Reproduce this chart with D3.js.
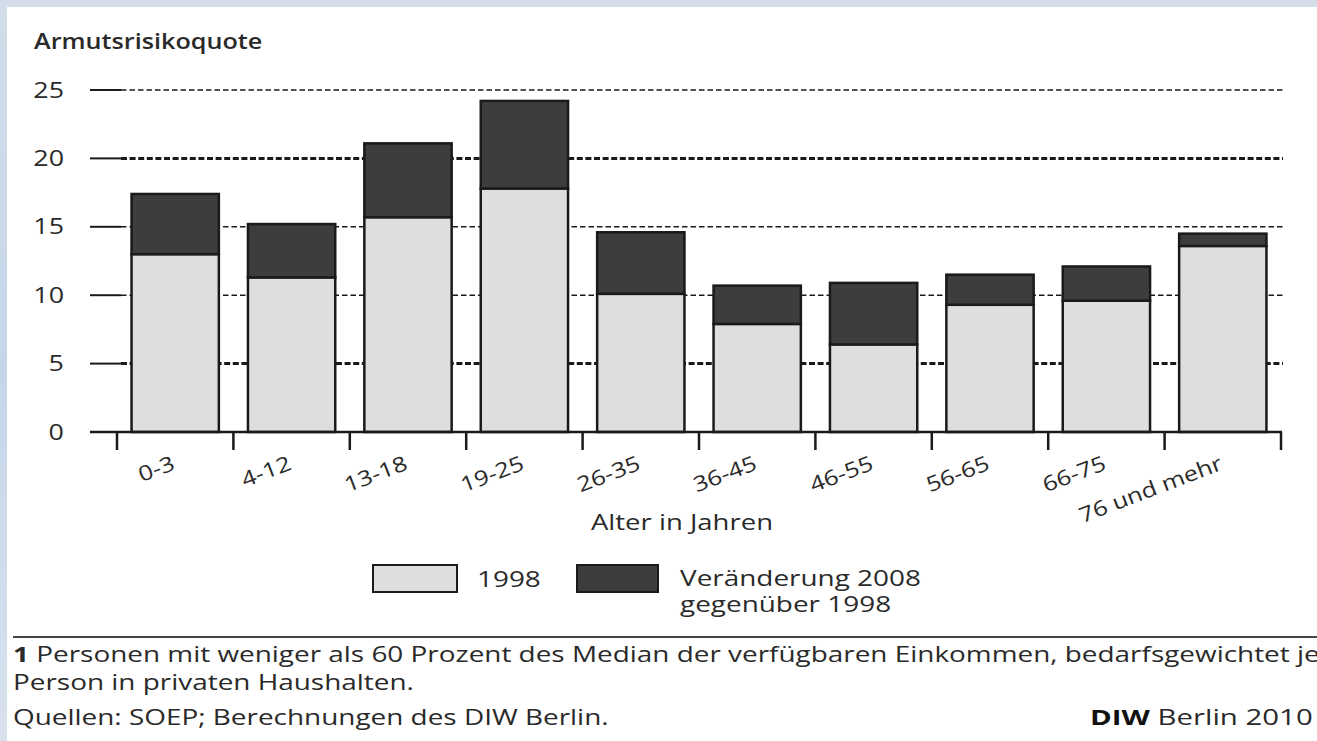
<!DOCTYPE html>
<html><head><meta charset="utf-8">
<script src="https://cdn.jsdelivr.net/npm/d3@7"></script>
<style>
html,body{margin:0;padding:0;background:#fff;}
svg{display:block;}
text{font-family:"Open Sans","Noto Sans",sans-serif;fill:#2a2a2a;}
</style></head>
<body>
<svg id="c" width="1317" height="741"></svg>
<script>
const categories = ["0-3","4-12","13-18","19-25","26-35","36-45","46-55","56-65","66-75","76 und mehr"];
const values1998 = [13.0, 11.3, 15.7, 17.8, 10.1, 7.9, 6.4, 9.3, 9.6, 13.6];
const change2008 = [4.4, 3.9, 5.4, 6.4, 4.5, 2.8, 4.5, 2.2, 2.5, 0.9];
const yTicks = [0, 5, 10, 15, 20, 25];
const seriesNames = ["1998", "Veränderung 2008", "gegenüber 1998"];

const svg = d3.select("#c");
const W = 1317, H = 741;
svg.append("rect").attr("width", W).attr("height", H).attr("fill", "#fff");
svg.append("rect").attr("x",0).attr("y",0).attr("width",W).attr("height",7).attr("fill","#d2dde9");
const lg = svg.append("defs").append("linearGradient").attr("id","lb").attr("x1",0).attr("y1",0).attr("x2",0).attr("y2",1);
lg.append("stop").attr("offset","0").attr("stop-color","#d2dde9");
lg.append("stop").attr("offset","0.5").attr("stop-color","#c6d6e8");
lg.append("stop").attr("offset","1").attr("stop-color","#d8e2ee");
svg.append("rect").attr("x",0).attr("y",0).attr("width",7).attr("height",H).attr("fill","url(#lb)");

// stretched text helper
function stext(parent, x, y, sx, size, str, anchor, weight) {
  const t = parent.append("text")
    .attr("transform", `translate(${x},${y}) scale(${sx},1)`)
    .attr("font-size", size)
    .attr("text-anchor", anchor || "start");
  if (weight) t.attr("font-weight", weight);
  if (str !== null) t.text(str);
  return t;
}

const x = d3.scaleBand().domain(categories).range([117, 1281]).paddingInner(0.25).paddingOuter(0.125);
const y = d3.scaleLinear().domain([0, 25]).range([432, 90]);

// title
stext(svg, 34, 49, 1.2, 21, "Armutsrisikoquote", "start", 600);

// gridlines
const thick = new Set([5, 20]);
const g = svg.append("g");
yTicks.filter(t => t > 0).forEach(t => {
  g.append("line").attr("x1", 90).attr("x2", 121).attr("y1", y(t)).attr("y2", y(t))
    .attr("stroke", "#1a1a1a").attr("stroke-width", 2);
  g.append("line").attr("x1", 121).attr("x2", 1283).attr("y1", y(t)).attr("y2", y(t))
    .attr("stroke", "#1a1a1a")
    .attr("stroke-width", thick.has(t) ? 3 : 1.5)
    .attr("stroke-dasharray", thick.has(t) ? "6,2.6" : "5.5,3");
});
// y labels
yTicks.forEach(t => {
  stext(svg, 64, y(t) + 7.5, 1.28, 21, String(t), "end");
});

// bars
const bars = svg.append("g");
categories.forEach((c, i) => {
  const b = values1998[i], tot = b + change2008[i];
  bars.append("rect").attr("x", x(c)).attr("width", x.bandwidth())
    .attr("y", y(b)).attr("height", y(0) - y(b))
    .attr("fill", "#dedede").attr("stroke", "#1a1a1a").attr("stroke-width", 2.5);
  bars.append("rect").attr("x", x(c)).attr("width", x.bandwidth())
    .attr("y", y(tot)).attr("height", y(b) - y(tot))
    .attr("fill", "#3d3d3d").attr("stroke", "#1a1a1a").attr("stroke-width", 2.5);
});

// x axis
const ax = svg.append("g");
ax.append("line").attr("x1", 90).attr("x2", 1282).attr("y1", y(0)).attr("y2", y(0))
  .attr("stroke", "#1a1a1a").attr("stroke-width", 2.5);
const off = (x.step() - x.bandwidth()) / 2;
const bounds = categories.map(c => x(c) - off).concat([x(categories[categories.length-1]) - off + x.step()]);
bounds.forEach(bx => {
  ax.append("line").attr("x1", bx).attr("x2", bx).attr("y1", y(0)).attr("y2", y(0) + 18)
    .attr("stroke", "#1a1a1a").attr("stroke-width", 2.5);
});
categories.forEach(c => {
  const cx = x(c) + x.bandwidth() / 2 + 1;
  ax.append("text").attr("transform", `translate(${cx},${y(0) + 37}) rotate(-21) scale(1.2,1)`)
    .attr("text-anchor", "end").attr("font-size", 21).text(c);
});
stext(svg, 682, 530, 1.31, 21, "Alter in Jahren", "middle");

// legend
const leg = svg.append("g");
leg.append("rect").attr("x", 373).attr("y", 565).attr("width", 84).attr("height", 27)
  .attr("fill", "#dedede").attr("stroke", "#1a1a1a").attr("stroke-width", 2);
stext(leg, 477, 587, 1.33, 21, seriesNames[0]);
leg.append("rect").attr("x", 577).attr("y", 565).attr("width", 81).attr("height", 27)
  .attr("fill", "#3d3d3d").attr("stroke", "#1a1a1a").attr("stroke-width", 2);
stext(leg, 680, 586, 1.33, 21, seriesNames[1]);
stext(leg, 680, 612, 1.33, 21, seriesNames[2]);

// footer
svg.append("line").attr("x1", 13).attr("x2", W).attr("y1", 637).attr("y2", 637)
  .attr("stroke", "#444").attr("stroke-width", 2);
const f1 = stext(svg, 13, 662, 1.33, 21, null);
f1.append("tspan").attr("font-weight", 700).text("1");
f1.append("tspan").text(" Personen mit weniger als 60 Prozent des Median der verfügbaren Einkommen, bedarfsgewichtet je");
stext(svg, 13, 690, 1.33, 21, "Person in privaten Haushalten.");
stext(svg, 13, 725, 1.33, 21, "Quellen: SOEP; Berechnungen des DIW Berlin.");
const f4 = stext(svg, 1090, 725, 1.4, 21, null);
f4.append("tspan").attr("font-weight", 700).attr("fill", "#111").text("DIW");
f4.append("tspan").text(" Berlin 2010");
</script>
</body></html>
